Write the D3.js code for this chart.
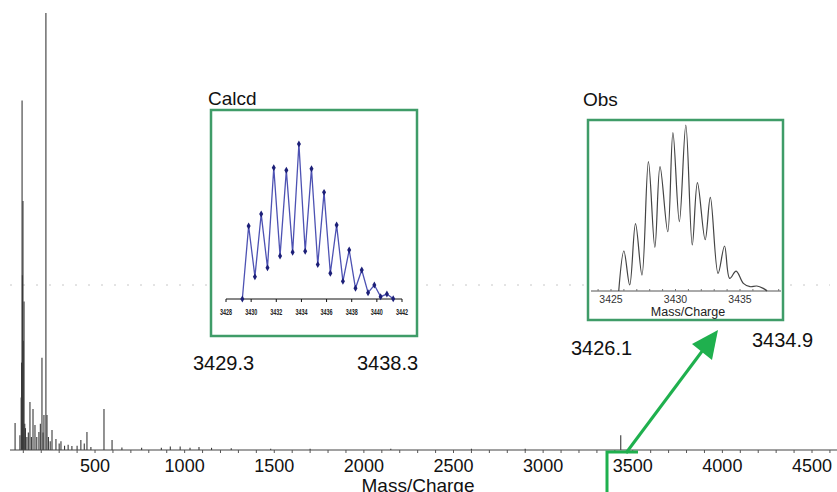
<!DOCTYPE html>
<html>
<head>
<meta charset="utf-8">
<script src="https://cdn.jsdelivr.net/npm/d3@7"></script>
<style>
  html, body { margin: 0; padding: 0; background: #fff; }
  svg { display: block; font-family: "Liberation Sans", Arial, sans-serif; }
</style>
</head>
<body>
<div id="chart"></div>
<script>
// full spectrum (stick peaks), m/z and relative intensity
const spectrumMz  = [54, 81, 88, 90, 93, 95, 98, 100, 104, 108, 112, 120, 128, 137, 145, 154, 165, 175, 187, 195, 204, 210, 215, 226, 232, 240, 250, 260, 282, 300, 310, 330, 350, 371, 400, 421, 440, 455, 477, 550, 595, 650, 760, 870, 920, 975, 1030, 1080, 1150, 1260, 1480, 1700, 2150, 2600, 2900, 3433]
const spectrumInt = [6.2, 3.4, 12, 20, 80, 40, 57, 25, 34, 6, 5, 3, 4, 11, 3, 9.4, 5.7, 3, 4.1, 6, 21.1, 4, 8, 100, 8, 3, 2, 4.6, 2.5, 1.5, 2, 1, 1.2, 0.9, 1, 2.3, 1.5, 4.1, 0.7, 9.4, 2.3, 0.6, 0.5, 0.5, 0.8, 0.8, 0.5, 0.7, 0.5, 0.4, 0.3, 0.3, 0.3, 0.3, 0.3, 3.4]
const mainTicks = [500, 1000, 1500, 2000, 2500, 3000, 3500, 4000, 4500]

// calculated isotope pattern
const calcdMz  = [3429.3, 3429.8, 3430.3, 3430.8, 3431.3, 3431.8, 3432.3, 3432.8, 3433.3, 3433.8, 3434.3, 3434.8, 3435.3, 3435.8, 3436.3, 3436.8, 3437.3, 3437.8, 3438.3, 3438.8, 3439.3, 3439.8, 3440.3, 3440.8, 3441.3]
const calcdInt = [0, 47.1, 14.4, 54.8, 20.2, 84.7, 27.8, 83.0, 30.1, 100, 30.8, 84.1, 22.2, 68.8, 16.6, 47.7, 11.4, 31.6, 6.9, 18.7, 4.1, 9.0, 1.5, 3.2, 0.2]
const calcdTicks = [3428, 3430, 3432, 3434, 3436, 3438, 3440, 3442]

// observed isotope envelope (profile)
const obsMz  = [3425.6, 3426.0, 3426.45, 3426.9, 3427.4, 3427.9, 3428.4, 3428.8, 3429.4, 3429.8, 3430.3, 3430.8, 3431.3, 3431.7, 3432.3, 3432.7, 3433.3, 3433.8, 3434.2, 3434.7, 3435.26, 3435.78, 3436.3, 3436.8, 3437.1]
const obsInt = [0, 24.1, 3.6, 40.6, 9.6, 77.9, 26.3, 74.9, 35.7, 95.4, 41.8, 100, 27.7, 65.3, 30.9, 56.4, 10.6, 27.1, 7.6, 12.0, 4.6, 2.6, 3.0, 1.6, 0]
const obsTicks = [3425, 3430, 3435]

const width = 837
const height = 492
const boxGreen = "#3f9c68"
const arrowGreen = "#1fb04e"

const svg = d3.select("#chart")
  .append("svg")
  .attr("width", width)
  .attr("height", height)
  .attr("viewBox", "0 0 " + width + " " + height)

// ---- main spectrum ----
const x = d3.scaleLinear().domain([0, 4500]).range([5.4, 812])
const y = d3.scaleLinear().domain([0, 100]).range([450, 13])

// faint scan artefact line
svg.append("line")
  .attr("x1", 10).attr("x2", 830)
  .attr("y1", 285).attr("y2", 285)
  .attr("stroke", "#c8c8c8")
  .attr("stroke-width", 1)
  .attr("stroke-dasharray", "2,11")

svg.append("g")
  .selectAll("line")
  .data(spectrumMz)
  .join("line")
  .attr("x1", d => x(d)).attr("x2", d => x(d))
  .attr("y1", y(0))
  .attr("y2", (d, i) => y(spectrumInt[i]))
  .attr("stroke", "#3a3a3a")
  .attr("stroke-width", 1.1)

const axis = svg.append("g").attr("transform", `translate(0,${y(0)})`)
axis.append("line")
  .attr("x1", 10).attr("x2", width)
  .attr("stroke", "#444").attr("stroke-width", 1.2)
axis.selectAll(".minor")
  .data(d3.range(100, 4700, 100))
  .join("line")
  .attr("class", "minor")
  .attr("x1", d => x(d)).attr("x2", d => x(d))
  .attr("y1", 0).attr("y2", 3)
  .attr("stroke", "#555")
axis.selectAll("text")
  .data(mainTicks)
  .join("text")
  .attr("x", d => x(d))
  .attr("y", 22)
  .attr("text-anchor", "middle")
  .attr("font-size", 18)
  .attr("fill", "#111")
  .text(d => d)

svg.append("text")
  .attr("x", 418).attr("y", 492)
  .attr("text-anchor", "middle")
  .attr("font-size", 19)
  .attr("fill", "#111")
  .text("Mass/Charge")

// ---- Calcd inset ----
svg.append("rect")
  .attr("x", 211).attr("y", 110)
  .attr("width", 206).attr("height", 226)
  .attr("fill", "#fff")
  .attr("stroke", boxGreen).attr("stroke-width", 2.5)

svg.append("text")
  .attr("x", 208).attr("y", 105)
  .attr("font-size", 19).attr("fill", "#111")
  .text("Calcd")

const cx = d3.scaleLinear().domain([3428, 3442]).range([226, 402])
const cy = d3.scaleLinear().domain([0, 100]).range([299, 144])

const cAxis = svg.append("g").attr("transform", `translate(0,${cy(0)})`)
cAxis.append("line")
  .attr("x1", cx(3428)).attr("x2", cx(3442))
  .attr("stroke", "#111").attr("stroke-width", 1)
cAxis.selectAll("line.t")
  .data(calcdTicks)
  .join("line")
  .attr("class", "t")
  .attr("x1", d => cx(d)).attr("x2", d => cx(d))
  .attr("y1", 0).attr("y2", 3)
  .attr("stroke", "#111")
cAxis.selectAll("text")
  .data(calcdTicks)
  .join("text")
  .attr("x", d => cx(d))
  .attr("y", 16)
  .attr("text-anchor", "middle")
  .attr("font-size", 9)
  .attr("font-weight", "bold")
  .attr("fill", "#222")
  .attr("transform", d => `translate(${cx(d) * 0.4},0) scale(0.6,1)`)
  .text(d => d)

const cLine = d3.line()
  .x((d, i) => cx(calcdMz[i]))
  .y((d, i) => cy(calcdInt[i]))

svg.append("path")
  .attr("d", cLine(calcdMz))
  .attr("fill", "none")
  .attr("stroke", "#4d52b3")
  .attr("stroke-width", 1.3)

svg.append("g")
  .selectAll("path")
  .data(calcdMz)
  .join("path")
  .attr("d", d3.symbol(d3.symbolDiamond, 14))
  .attr("transform", (d, i) => `translate(${cx(d)},${cy(calcdInt[i])})`)
  .attr("fill", "#1c1f78")

// ---- Obs inset ----
svg.append("rect")
  .attr("x", 588).attr("y", 120)
  .attr("width", 195).attr("height", 200)
  .attr("fill", "#fff")
  .attr("stroke", boxGreen).attr("stroke-width", 2.5)

svg.append("text")
  .attr("x", 583).attr("y", 106)
  .attr("font-size", 19).attr("fill", "#111")
  .text("Obs")

const ox = d3.scaleLinear().domain([3425, 3435]).range([611, 740])
const oy = d3.scaleLinear().domain([0, 100]).range([291, 125])

const oAxis = svg.append("g").attr("transform", `translate(0,${oy(0)})`)
oAxis.append("line")
  .attr("x1", 591).attr("x2", 781)
  .attr("stroke", "#555").attr("stroke-width", 1)
oAxis.selectAll("line.t")
  .data(d3.range(3424, 3439, 1))
  .join("line")
  .attr("class", "t")
  .attr("x1", d => ox(d)).attr("x2", d => ox(d))
  .attr("y1", 0).attr("y2", -2)
  .attr("stroke", "#777")
oAxis.selectAll("text")
  .data(obsTicks)
  .join("text")
  .attr("x", d => ox(d))
  .attr("y", 12)
  .attr("text-anchor", "middle")
  .attr("font-size", 10.5)
  .attr("fill", "#333")
  .text(d => d)

svg.append("text")
  .attr("x", 688).attr("y", 316)
  .attr("text-anchor", "middle")
  .attr("font-size", 12.5)
  .attr("fill", "#222")
  .text("Mass/Charge")

const oLine = d3.line()
  .x((d, i) => ox(obsMz[i]))
  .y((d, i) => oy(obsInt[i]))
  .curve(d3.curveCatmullRom.alpha(0.5))

svg.append("path")
  .attr("d", oLine(obsMz))
  .attr("fill", "none")
  .attr("stroke", "#444")
  .attr("stroke-width", 1.2)

// ---- range labels ----
const labels = [
  { t: "3429.3", x: 193, y: 370 },
  { t: "3438.3", x: 357, y: 370 },
  { t: "3426.1", x: 571, y: 355 },
  { t: "3434.9", x: 752, y: 347 }
]
svg.append("g")
  .selectAll("text")
  .data(labels)
  .join("text")
  .attr("x", d => d.x).attr("y", d => d.y)
  .attr("font-size", 20)
  .attr("fill", "#111")
  .text(d => d.t)

// ---- bracket and arrow ----
svg.append("path")
  .attr("d", "M607,492 L607,452 L638,452")
  .attr("fill", "none")
  .attr("stroke", arrowGreen)
  .attr("stroke-width", 3)

svg.append("line")
  .attr("x1", 626).attr("y1", 453)
  .attr("x2", 703).attr("y2", 350)
  .attr("stroke", arrowGreen)
  .attr("stroke-width", 3)

svg.append("path")
  .attr("d", "M718,330 L692,344 L712,360 Z")
  .attr("fill", arrowGreen)
</script>
</body>
</html>
